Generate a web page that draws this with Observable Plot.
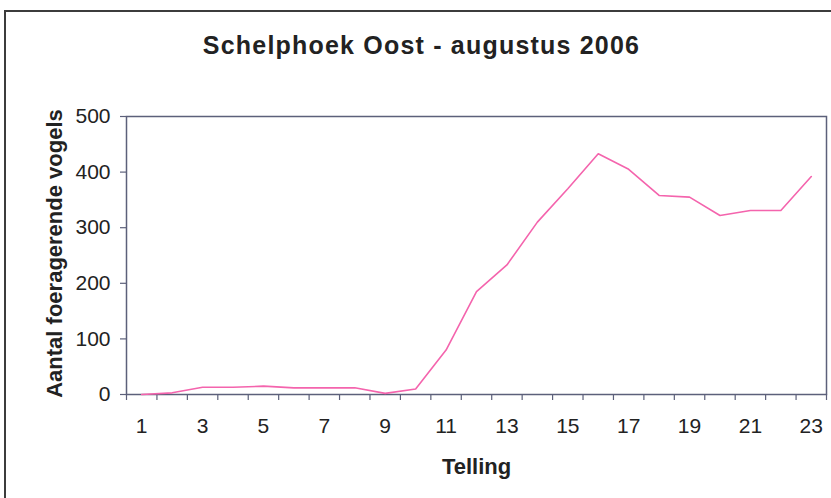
<!DOCTYPE html>
<html>
<head>
<meta charset="utf-8">
<script src="https://cdn.jsdelivr.net/npm/d3@7"></script>
<script src="https://cdn.jsdelivr.net/npm/@observablehq/plot@0.6"></script>
<style>
  html, body { margin: 0; padding: 0; background: #fff; }
  #wrap { position: relative; width: 831px; height: 498px; overflow: hidden; background: #fff; }
  #wrap svg { position: absolute; left: 0; top: 0; }
  #border { position: absolute; left: 4px; top: 10px; width: 900px; height: 600px; border: 2px solid #3c3c3c; box-sizing: border-box; }
  .title-text text { letter-spacing: 1.2px; }
</style>
</head>
<body>
<div id="wrap"></div>
<script>
const titel = "Schelphoek Oost - augustus 2006";
const xLabel = "Telling";
const yLabel = "Aantal foeragerende vogels";
const telling = [1,2,3,4,5,6,7,8,9,10,11,12,13,14,15,16,17,18,19,20,21,22,23];
const vogels = [0, 3, 13, 13, 15, 12, 12, 12, 2, 10, 80, 185, 233, 310, 370, 433, 405, 358, 355, 322, 331, 331, 392];
const xTickLabels = [1,3,5,7,9,11,13,15,17,19,21,23];
const yTicks = [0,100,200,300,400,500];

const data = telling.map((t, i) => ({telling: t, vogels: vogels[i]}));
const boundaries = [...telling.map(t => t - 0.5), telling[telling.length - 1] + 0.5];
const axisColor = "#5c607a";

const chart = Plot.plot({
  width: 831,
  height: 498,
  marginLeft: 126,
  marginRight: 5,
  marginTop: 116,
  marginBottom: 104,
  style: {fontFamily: "'Liberation Sans', Arial, sans-serif", background: "transparent", color: "#222"},
  x: {type: "linear", domain: [boundaries[0], boundaries[boundaries.length - 1]], label: null},
  y: {domain: [0, 500], label: null},
  marks: [
    Plot.frame({stroke: axisColor, strokeWidth: 1.5}),
    Plot.axisX(boundaries, {tickSize: 6, tickFormat: () => "", stroke: axisColor, strokeWidth: 1.2, label: null}),
    Plot.axisX(xTickLabels, {tickSize: 0, tickPadding: 24, fontSize: 21, label: null, fill: "#222"}),
    Plot.axisY(yTicks, {tickSize: 6, tickPadding: 10, fontSize: 21, label: null, stroke: axisColor, strokeWidth: 1.2, fill: "#222"}),
    Plot.lineY(data, {x: "telling", y: "vogels", stroke: "#f464ad", strokeWidth: 1.6}),
    Plot.text([titel], {text: d => d, frameAnchor: "top", dx: -55, dy: -63, lineAnchor: "bottom", textAnchor: "middle", fontSize: 25, fontWeight: "bold", fill: "#222", className: "title-text"}),
    Plot.text([xLabel], {text: d => d, frameAnchor: "bottom", dy: 79, lineAnchor: "bottom", textAnchor: "middle", fontSize: 22, fontWeight: "bold", fill: "#222"}),
    Plot.text([yLabel], {text: d => d, frameAnchor: "left", dx: -65, dy: -2, rotate: -90, lineAnchor: "bottom", textAnchor: "middle", fontSize: 22, fontWeight: "bold", fill: "#222"})
  ]
});
const wrap = document.getElementById("wrap");
wrap.appendChild(chart);
const border = document.createElement("div");
border.id = "border";
wrap.appendChild(border);
</script>
</body>
</html>
